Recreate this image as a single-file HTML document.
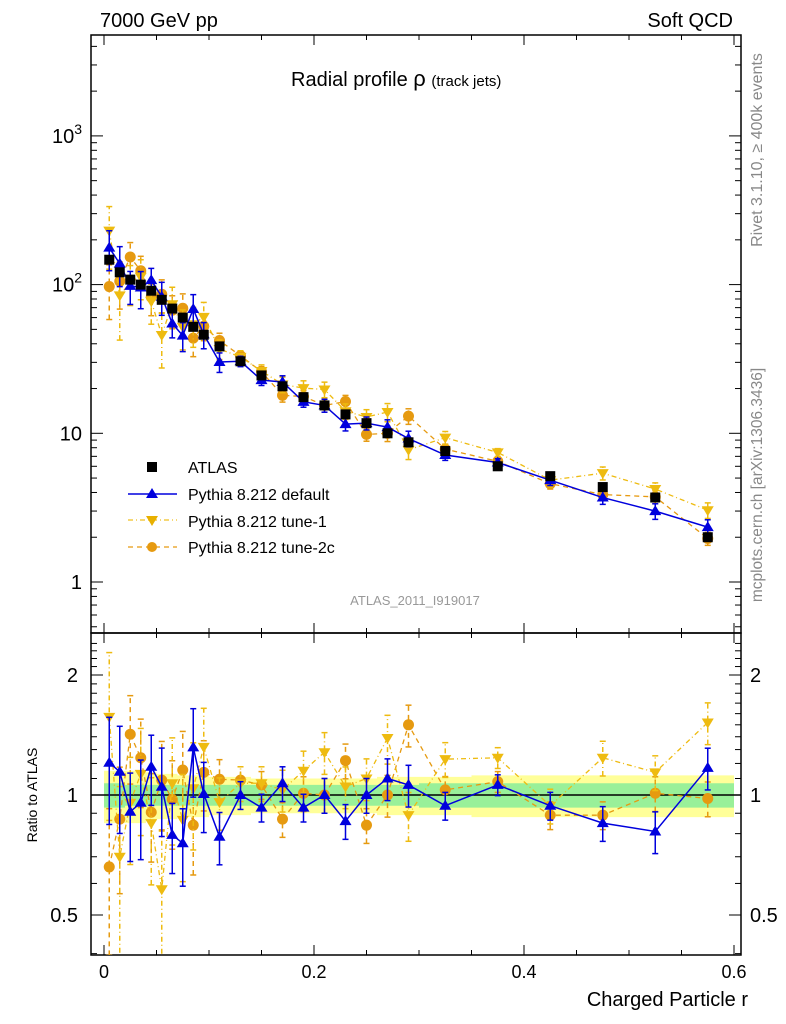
<!DOCTYPE html>
<html><head><meta charset="utf-8"><style>
html,body{margin:0;padding:0;background:#fff;}
svg{display:block;font-family:"Liberation Sans",sans-serif;}
</style></head><body>
<svg id="chart" width="786" height="1024" viewBox="0 0 786 1024" xmlns="http://www.w3.org/2000/svg">
<defs>
<clipPath id="mainClip"><rect x="91" y="35" width="650" height="598"/></clipPath>
<clipPath id="ratioClip"><rect x="91" y="633" width="650" height="322"/></clipPath>
</defs>
<text x="100" y="27" font-size="20">7000 GeV pp</text>
<text x="733" y="27" font-size="20" text-anchor="end">Soft QCD</text>
<text x="291" y="86" font-size="20">Radial profile <tspan font-size="22">ρ</tspan> <tspan font-size="15">(track jets)</tspan></text>
<text transform="translate(762,150) rotate(-90)" font-size="16" fill="#888" text-anchor="middle">Rivet 3.1.10, ≥ 400k events</text>
<text transform="translate(762,485) rotate(-90)" font-size="15.5" fill="#888" text-anchor="middle">mcplots.cern.ch [arXiv:1306.3436]</text>
<text x="415" y="605" font-size="13" fill="#999" text-anchor="middle">ATLAS_2011_I919017</text>
<text transform="translate(37,795) rotate(-90)" font-size="14" text-anchor="middle">Ratio to ATLAS</text>
<text x="748" y="1006" font-size="20" text-anchor="end">Charged Particle r</text>
<g id="bands" clip-path="url(#ratioClip)"></g>
<g id="axes"></g>
<g id="mainMarks" clip-path="url(#mainClip)"></g>
<g id="ratioMarks" clip-path="url(#ratioClip)"></g>
<g id="legend">
<rect x="147" y="462" width="10" height="10" fill="#000"/>
<text x="188" y="473" font-size="16">ATLAS</text>
<line x1="128" y1="494" x2="177" y2="494" stroke="#0000dd" stroke-width="1.5"/>
<polygon points="152,488 158,498 146,498" fill="#0000dd"/>
<text x="188" y="500" font-size="16">Pythia 8.212 default</text>
<line x1="128" y1="520" x2="177" y2="520" stroke="#f0c020" stroke-width="1.3" stroke-dasharray="5,3,1,3"/>
<polygon points="146,516 158,516 152,526" fill="#e8b000"/>
<text x="188" y="527" font-size="16">Pythia 8.212 tune-1</text>
<line x1="128" y1="547" x2="177" y2="547" stroke="#e69a10" stroke-width="1.3" stroke-dasharray="5,4"/>
<circle cx="152" cy="547" r="5" fill="#e69a10"/>
<text x="188" y="553" font-size="16">Pythia 8.212 tune-2c</text>
</g>
</svg>
<script>
const binCenters=[0.005,0.015,0.025,0.035,0.045,0.055,0.065,0.075,0.085,0.095,0.11,0.13,0.15,0.17,0.19,0.21,0.23,0.25,0.27,0.29,0.325,0.375,0.425,0.475,0.525,0.575];
const atlasValues=[147,121,108,100,91,79,69,60,52,46,38.4,30.5,24.5,20.7,17.5,15.4,13.4,11.7,10,8.7,7.6,6.0,5.15,4.35,3.7,2.0];
const ratioDefault=[1.205,1.144,0.908,0.956,1.177,1.049,0.794,0.757,1.317,1.006,0.786,1.0,0.93,1.07,0.93,1.0,0.86,1.0,1.1,1.06,0.94,1.06,0.94,0.85,0.81,1.17];
const ratioTune1=[1.57,0.70,0.956,1.13,0.85,0.58,1.07,0.866,1.04,1.32,0.96,1.07,1.07,1.03,1.15,1.28,1.05,1.1,1.39,0.89,1.23,1.24,0.94,1.24,1.14,1.52];
const ratioTune2c=[0.66,0.87,1.42,1.24,0.905,1.09,0.975,1.155,0.84,1.14,1.095,1.09,1.06,0.87,1.01,1.0,1.22,0.84,1.0,1.5,1.03,1.08,0.89,0.89,1.01,0.98];
const errDefault=[0.3,0.3,0.25,0.28,0.2,0.25,0.2,0.22,0.25,0.2,0.15,0.08,0.08,0.1,0.08,0.1,0.1,0.1,0.12,0.12,0.08,0.06,0.08,0.1,0.12,0.12];
const errTune1=[0.45,0.5,0.3,0.3,0.3,0.4,0.3,0.3,0.3,0.25,0.15,0.1,0.1,0.12,0.12,0.12,0.12,0.12,0.14,0.14,0.1,0.06,0.1,0.1,0.1,0.12];
const errTune2c=[0.4,0.35,0.25,0.25,0.25,0.25,0.25,0.25,0.25,0.2,0.12,0.08,0.08,0.1,0.1,0.1,0.1,0.1,0.12,0.12,0.08,0.06,0.08,0.08,0.1,0.1];
const bandTotal=[0.15,0.15,0.15,0.15,0.14,0.13,0.13,0.12,0.12,0.12,0.11,0.11,0.1,0.1,0.1,0.1,0.1,0.1,0.11,0.11,0.11,0.12,0.12,0.12,0.12,0.12];
const bandStat=[0.07,0.07,0.06,0.06,0.06,0.06,0.06,0.06,0.06,0.06,0.06,0.06,0.06,0.06,0.06,0.06,0.06,0.06,0.06,0.06,0.07,0.07,0.07,0.07,0.07,0.07];
const xTicks=[0,0.2,0.4,0.6];
const ratioTicks=[2,1,0.5];
const mainTicks=[1,10,100,1000];
const NS="http://www.w3.org/2000/svg";
const X=v=>104+v*1050;
const YM=v=>582-Math.log10(v)*148.7;
const YR=v=>795-Math.log2(v)*120;
function mk(tag,attrs,parent){const e=document.createElementNS(NS,tag);for(const k in attrs)e.setAttribute(k,attrs[k]);parent.appendChild(e);return e;}
const axes=document.getElementById('axes'),mainG=document.getElementById('mainMarks'),ratioG=document.getElementById('ratioMarks'),bands=document.getElementById('bands');
function edges(i){const c=binCenters[i];const w=c<0.1?0.005:(c<0.3?0.01:0.025);return [c-w,c+w];}
[[bandTotal,'#ffff99'],[bandStat,'#99f099']].forEach(([arr,col],k)=>{
 let top='',bot='';
 arr.forEach((b,i)=>{const [a,e]=edges(i);top+=`${X(a)},${YR(1+b)} ${X(e)},${YR(1+b)} `;bot=`${X(e)},${YR(1-b)} ${X(a)},${YR(1-b)} `+bot;});
 const p=mk('polygon',{points:top+bot,fill:col},bands);
 
 
});
const f1=mk('rect',{x:91,y:35,width:650,height:598,fill:'none',stroke:'#000','stroke-width':1.5},axes);

const f2=mk('rect',{x:91,y:633,width:650,height:322,fill:'none',stroke:'#000','stroke-width':1.5},axes);

const ref=mk('line',{x1:91,x2:741,y1:YR(1),y2:YR(1),stroke:'#000','stroke-width':1.5},axes);

for(let v=0;v<=0.6001;v+=0.05){const maj=Math.abs(v/0.2-Math.round(v/0.2))<1e-6;const L=maj?10:5;
 [[955,-1],[633,-1],[633,1],[35,1]].forEach(([y,d])=>mk('line',{x1:X(v),x2:X(v),y1:y,y2:y+d*L,stroke:'#000'},axes));}
xTicks.forEach(v=>{const t=mk('text',{x:X(v),y:978,'font-size':18,'text-anchor':'middle'},axes);t.textContent=String(v);
 });
for(let d=-1;d<=3;d++)for(let m=1;m<=9;m++){const v=m*Math.pow(10,d);const y=YM(v);if(y<35||y>633)continue;const L=m==1?12:6;
 mk('line',{x1:91,x2:91+L,y1:y,y2:y,stroke:'#000'},axes);mk('line',{x1:741,x2:741-L,y1:y,y2:y,stroke:'#000'},axes);}
mainTicks.forEach(v=>{const t=mk('text',{x:82,y:YM(v)+7,'font-size':20,'text-anchor':'end'},axes);
 if(v>=100){t.innerHTML='10<tspan font-size="14" dy="-9">'+Math.log10(v)+'</tspan>';}else t.textContent=String(v);
 });
for(let v=0.4;v<=2.5;v+=0.1){const y=YR(v);if(y<633||y>955)continue;const maj=ratioTicks.some(r=>Math.abs(r-v)<1e-6);const L=maj?12:6;
 mk('line',{x1:91,x2:91+L,y1:y,y2:y,stroke:'#000'},axes);mk('line',{x1:741,x2:741-L,y1:y,y2:y,stroke:'#000'},axes);}
ratioTicks.forEach(v=>{[[78,'end'],[750,'start']].forEach(([x,a])=>{const t=mk('text',{x:x,y:YR(v)+7,'font-size':20,'text-anchor':a},axes);t.textContent=String(v);
 });});
const series=[
 {name:'default',ratio:ratioDefault,err:errDefault,col:'#0000dd',dash:'',marker:'up',w:1.5},
 {name:'tune1',ratio:ratioTune1,err:errTune1,col:'#eebb10',dash:'5,3,1,3',marker:'down',w:1.3},
 {name:'tune2c',ratio:ratioTune2c,err:errTune2c,col:'#e69a10',dash:'5,4',marker:'circle',w:1.3}];
function marker(s,x,y,g){let e;
 if(s.marker=='up')e=mk('polygon',{points:`${x},${y-6} ${x+6},${y+4} ${x-6},${y+4}`,fill:s.col},g);
 else if(s.marker=='down')e=mk('polygon',{points:`${x-6},${y-4} ${x+6},${y-4} ${x},${y+6}`,fill:s.col},g);
 else e=mk('circle',{cx:x,cy:y,r:5.5,fill:s.col},g);return e;}
function drawSeries(s,g,Yf,valFn,panel){
 const pts=binCenters.map((c,i)=>`${X(c)},${Yf(valFn(i))}`).join(' ');
 const pl=mk('polyline',{points:pts,fill:'none',stroke:s.col,'stroke-width':s.w,'stroke-dasharray':s.dash},g);
 
 binCenters.forEach((c,i)=>{const v=valFn(i),e=s.err[i]*s.ratio[i];const k=valFn(i)/s.ratio[i];
  const lo=Yf(Math.max((s.ratio[i]-e)*k,1e-3)),hi=Yf((s.ratio[i]+e)*k),x=X(c);
  mk('line',{x1:x,x2:x,y1:lo,y2:hi,stroke:s.col,'stroke-width':1.5,'stroke-dasharray':s.dash},g);
  mk('line',{x1:x-3,x2:x+3,y1:lo,y2:lo,stroke:s.col,'stroke-width':1.5},g);
  mk('line',{x1:x-3,x2:x+3,y1:hi,y2:hi,stroke:s.col,'stroke-width':1.5},g);
  const m=marker(s,x,Yf(v),g);
  
  
 });}
const atlasErr=0.05;
binCenters.forEach((c,i)=>{const x=X(c),v=atlasValues[i];
 mk('line',{x1:x,x2:x,y1:YM(v*(1-atlasErr)),y2:YM(v*(1+atlasErr)),stroke:'#000','stroke-width':1.5},mainG);
});
series.slice().reverse().forEach(s=>drawSeries(s,mainG,YM,i=>atlasValues[i]*s.ratio[i],'main'));
binCenters.forEach((c,i)=>{const x=X(c),y=YM(atlasValues[i]);
 const r=mk('rect',{x:x-5,y:y-5,width:10,height:10,fill:'#000'},mainG);
 
 
});
series.slice().reverse().forEach(s=>drawSeries(s,ratioG,YR,i=>s.ratio[i],'ratio'));
</script>
</body></html>
